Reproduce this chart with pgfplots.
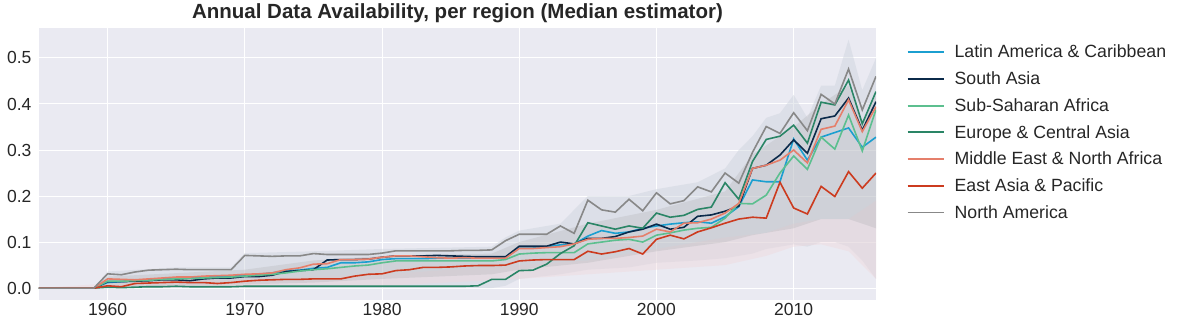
\documentclass[border=0pt]{standalone}
\usepackage{fontspec}
\setmainfont{Liberation Sans}
\usepackage{pgfplots}
\usepackage{pgfplotstable}
\pgfplotsset{compat=1.18}
\definecolor{bg}{HTML}{EAEAF2}
\definecolor{txt}{HTML}{262626}
\definecolor{cLA}{HTML}{1B9FD0}
\definecolor{cSA}{HTML}{0B2A4A}
\definecolor{cSSA}{HTML}{5CBF8F}
\definecolor{cECA}{HTML}{2A8566}
\definecolor{cMENA}{HTML}{E57F6B}
\definecolor{cEAP}{HTML}{CC3B1F}
\definecolor{cNA}{HTML}{888888}
\definecolor{bandA}{HTML}{CDD3DC}
\definecolor{bandB}{HTML}{B8B8BC}
\definecolor{bandC}{HTML}{F0D6DA}

\pgfplotstableread{
year LA SA SSA ECA MENA EAP NA
1955 0 0 0 0 0 0 0
1956 0 0 0 0 0 0 0
1957 0 0 0 0 0 0 0
1958 0 0 0 0 0 0 0
1959 0 0 0 0 0 0 0
1960 0.012 0.014 0.015 0.002 0.020 0.005 0.031
1961 0.014 0.014 0.015 0.001 0.019 0.003 0.029
1962 0.016 0.015 0.016 0.002 0.018 0.010 0.035
1963 0.018 0.016 0.017 0.003 0.020 0.011 0.039
1964 0.020 0.018 0.019 0.003 0.022 0.012 0.040
1965 0.021 0.018 0.020 0.004 0.024 0.013 0.041
1966 0.022 0.016 0.021 0.003 0.024 0.012 0.040
1967 0.024 0.020 0.022 0.003 0.026 0.012 0.040
1968 0.025 0.022 0.023 0.003 0.027 0.010 0.040
1969 0.026 0.022 0.024 0.003 0.028 0.012 0.040
1970 0.028 0.025 0.026 0.004 0.030 0.015 0.071
1971 0.030 0.025 0.028 0.004 0.031 0.017 0.070
1972 0.033 0.028 0.030 0.004 0.033 0.018 0.069
1973 0.038 0.036 0.033 0.004 0.040 0.019 0.070
1974 0.039 0.038 0.037 0.004 0.044 0.019 0.070
1975 0.043 0.040 0.040 0.004 0.052 0.020 0.075
1976 0.045 0.061 0.042 0.004 0.053 0.020 0.073
1977 0.055 0.062 0.045 0.004 0.062 0.020 0.073
1978 0.055 0.062 0.048 0.004 0.062 0.026 0.073
1979 0.057 0.063 0.050 0.004 0.063 0.030 0.073
1980 0.062 0.067 0.055 0.004 0.067 0.031 0.076
1981 0.064 0.070 0.059 0.004 0.070 0.038 0.081
1982 0.064 0.070 0.059 0.004 0.070 0.040 0.081
1983 0.064 0.070 0.059 0.004 0.068 0.045 0.081
1984 0.065 0.071 0.059 0.004 0.066 0.045 0.081
1985 0.065 0.070 0.059 0.004 0.065 0.046 0.081
1986 0.065 0.069 0.059 0.004 0.066 0.048 0.082
1987 0.065 0.068 0.059 0.005 0.065 0.049 0.082
1988 0.065 0.068 0.059 0.019 0.065 0.049 0.083
1989 0.067 0.068 0.062 0.019 0.065 0.050 0.103
1990 0.087 0.091 0.074 0.038 0.086 0.059 0.117
1991 0.087 0.091 0.076 0.039 0.086 0.061 0.117
1992 0.090 0.091 0.077 0.052 0.088 0.062 0.117
1993 0.094 0.100 0.077 0.075 0.090 0.062 0.135
1994 0.096 0.096 0.077 0.092 0.096 0.062 0.119
1995 0.113 0.108 0.096 0.142 0.106 0.080 0.191
1996 0.125 0.108 0.100 0.135 0.108 0.074 0.170
1997 0.119 0.112 0.104 0.128 0.108 0.079 0.165
1998 0.122 0.122 0.106 0.135 0.110 0.086 0.193
1999 0.130 0.128 0.100 0.130 0.113 0.074 0.168
2000 0.135 0.139 0.115 0.163 0.128 0.106 0.207
2001 0.139 0.128 0.120 0.154 0.122 0.115 0.183
2002 0.142 0.132 0.126 0.158 0.141 0.107 0.190
2003 0.144 0.156 0.130 0.171 0.142 0.122 0.220
2004 0.141 0.159 0.132 0.176 0.150 0.131 0.209
2005 0.155 0.167 0.152 0.229 0.163 0.141 0.250
2006 0.177 0.178 0.184 0.193 0.184 0.150 0.228
2007 0.235 0.260 0.183 0.275 0.260 0.154 0.295
2008 0.231 0.267 0.202 0.323 0.267 0.152 0.351
2009 0.231 0.289 0.250 0.330 0.278 0.230 0.336
2010 0.324 0.322 0.287 0.354 0.300 0.174 0.381
2011 0.278 0.293 0.258 0.315 0.272 0.161 0.342
2012 0.328 0.368 0.328 0.404 0.345 0.221 0.421
2013 0.338 0.374 0.302 0.398 0.352 0.199 0.400
2014 0.348 0.413 0.376 0.452 0.409 0.253 0.476
2015 0.306 0.343 0.298 0.357 0.340 0.217 0.387
2016 0.328 0.405 0.388 0.427 0.394 0.250 0.460
}\datatable

\begin{document}
\begin{tikzpicture}
\begin{axis}[
  at={(0,0)}, anchor=south west,
  scale only axis, width=837pt, height=272pt,
  xmin=1955, xmax=2016, ymin=-0.026, ymax=0.565,
  axis background/.style={fill=bg},
  axis line style={draw=none},
  major tick length=0pt,
  grid=major, grid style={white, line width=1pt},
  xtick={1960,1970,1980,1990,2000,2010},
  ytick={0,0.1,0.2,0.3,0.4,0.5},
  /pgf/number format/assume math mode=true,
  tick label style={font=\fontsize{17.5}{20}\selectfont, text=txt},
  xticklabel style={/pgf/number format/.cd, 1000 sep={}},
  yticklabel style={xshift=-4pt, /pgf/number format/.cd, fixed, fixed zerofill, precision=1},
  title={Annual Data Availability, per region (Median estimator)},
  title style={font=\bfseries\fontsize{20.5}{24}\selectfont, text=txt, yshift=-4pt},
  legend style={at={(1.033,0.953)}, anchor=north west, draw=none, fill=none,
    font=\fontsize{17.7}{21.2}\selectfont, text=txt, row sep=8.4pt,
    /tikz/every odd column/.append style={column sep=8pt}},
  legend cell align=left,
  legend image code/.code={\draw[#1] (0pt,0pt) -- (36pt,0pt);},
  legend image post style={line width=1.8pt},
  clip=true,
]
% outer band
\addplot[fill=bandA, draw=none, fill opacity=0.45, forget plot] coordinates {
(1955,0) (1959,0) (1960,0.036) (1965,0.045) (1969,0.045) (1970,0.076) (1975,0.080) (1980,0.085)
(1988,0.090) (1989,0.110) (1990,0.125) (1993,0.140) (1995,0.200) (1998,0.200) (2000,0.215)
(2003,0.230) (2005,0.260) (2006,0.300) (2007,0.330) (2008,0.370) (2009,0.380) (2010,0.420)
(2011,0.370) (2012,0.440) (2013,0.440) (2014,0.540) (2015,0.430) (2016,0.500)
(2016,0.020) (2015,0.060) (2014,0.090) (2013,0.100) (2012,0.100) (2011,0.090) (2010,0.095)
(2009,0.090) (2008,0.085) (2007,0.075) (2006,0.070) (2005,0.065) (2003,0.060) (2000,0.055)
(1998,0.045) (1995,0.040) (1993,0.030) (1990,0.020) (1989,0.005) (1988,0) (1955,0)
} -- cycle;
% pink band
\addplot[fill=bandC, draw=none, fill opacity=0.4, forget plot] coordinates {
(1955,0) (1960,0.010) (1980,0.030) (1990,0.050) (1995,0.060) (2000,0.085) (2005,0.110)
(2008,0.120) (2010,0.140) (2012,0.150) (2014,0.150) (2015,0.170) (2016,0.190)
(2016,0.020) (2015,0.050) (2014,0.080) (2012,0.095) (2010,0.090) (2008,0.070) (2005,0.050)
(2000,0.040) (1995,0.030) (1990,0.020) (1980,0.005) (1960,0) (1955,0)
} -- cycle;
% inner band
\addplot[fill=bandB, draw=none, fill opacity=0.35, forget plot] coordinates {
(1959,0) (1960,0.025) (1970,0.040) (1975,0.060) (1980,0.070) (1988,0.075) (1990,0.100)
(1995,0.140) (2000,0.170) (2005,0.210) (2007,0.290) (2010,0.350) (2012,0.400) (2014,0.440)
(2015,0.360) (2016,0.420)
(2016,0.130) (2015,0.140) (2014,0.150) (2012,0.150) (2010,0.130) (2007,0.115) (2005,0.100)
(2000,0.080) (1995,0.055) (1990,0.040) (1988,0.030) (1980,0.020) (1975,0.012) (1970,0.008)
(1960,0.003) (1959,0)
} -- cycle;
\addplot[cLA, line width=1.6pt] table[x=year, y=LA] {\datatable};
\addlegendentry{Latin America \& Caribbean}
\addplot[cSA, line width=1.6pt] table[x=year, y=SA] {\datatable};
\addlegendentry{South Asia}
\addplot[cSSA, line width=1.6pt] table[x=year, y=SSA] {\datatable};
\addlegendentry{Sub-Saharan Africa}
\addplot[cECA, line width=1.6pt] table[x=year, y=ECA] {\datatable};
\addlegendentry{Europe \& Central Asia}
\addplot[cMENA, line width=1.6pt] table[x=year, y=MENA] {\datatable};
\addlegendentry{Middle East \& North Africa}
\addplot[cEAP, line width=1.6pt] table[x=year, y=EAP] {\datatable};
\addlegendentry{East Asia \& Pacific}
\addplot[cNA, line width=1.6pt] table[x=year, y=NA] {\datatable};
\addlegendentry{North America}
\end{axis}
\path (-39pt,-32pt) rectangle (1141pt,300pt);
\end{tikzpicture}
\end{document}
